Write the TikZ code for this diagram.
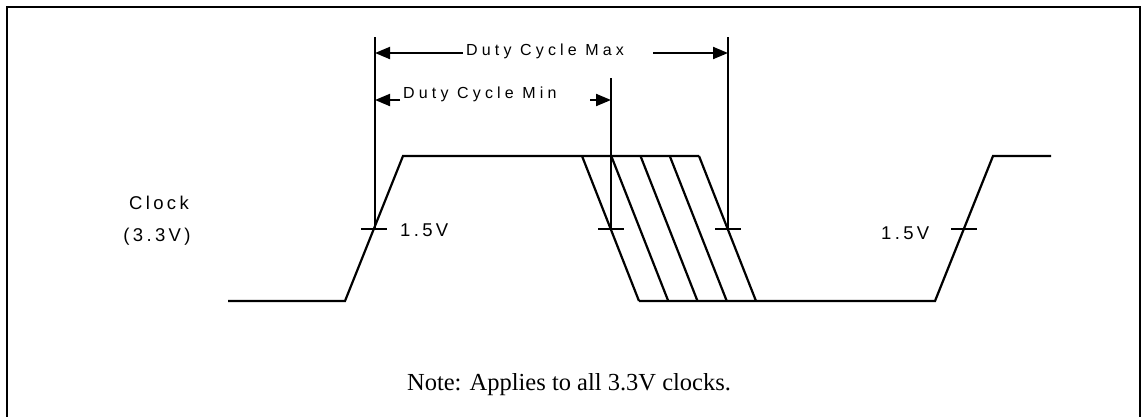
\documentclass[tikz,border=0pt]{standalone}
\usepackage{fontspec}
\setmainfont{Liberation Serif}
\newfontfamily\sigsans[LetterSpace=18]{Liberation Sans}
\newfontfamily\dutysans[LetterSpace=26]{Liberation Sans}
\usetikzlibrary{arrows.meta}
\usetikzlibrary{positioning}

\begin{document}
\begin{tikzpicture}[
  x=1pt, y=-1pt,
  wave/.style={line width=2.2pt, line join=miter},
  guide/.style={line width=1.9pt},
  tickmark/.style={line width=2.2pt},
  dimarrow/.style={line width=2pt, -{Triangle[length=15pt,width=12pt]}},
  siglabel/.style={inner sep=0pt, font=\sigsans\fontsize{18.5}{20}\selectfont},
  dutylabel/.style={inner sep=0pt, font=\dutysans\fontsize{16}{18}\selectfont}
]
\useasboundingbox (0,0) rectangle (1142,416);

% frame, open at the bottom
\draw[line width=2.4pt] (7,420) -- (7,7) -- (1140,7) -- (1140,420);

% clock waveform
\coordinate (lowA) at (228,301);
\coordinate (riseA) at (345,301);
\coordinate (highA) at (403,156);
\coordinate (highB) at (699,156);
\coordinate (lowB) at (639,301);
\coordinate (riseB) at (935,301);
\coordinate (highC) at (993,156);
\coordinate (highD) at (1051,156);

\draw[wave] (lowA) -- (riseA) -- (highA) -- (highB);
\draw[wave] (lowB) -- (riseB) -- (highC) -- (highD);
\foreach \i in {0,...,4} {
  \draw[wave] ({582+29.25*\i},156) -- ({639+29.25*\i},301);
}

% 1.5V crossings
\foreach \x in {374,611,728,964} {
  \draw[tickmark] (\x-13,229) -- (\x+13,229);
}

% reference lines
\coordinate (maxL) at (375,53);
\coordinate (maxR) at (728,53);
\coordinate (minL) at (375,100);
\coordinate (minR) at (611,100);
\draw[guide] (375,37) -- (375,229);
\draw[guide] (728,37) -- (728,229);
\draw[guide] (611,78) -- (611,229);

% labels
\node[dutylabel, anchor=base west] (maxtxt) at (466,55) {Duty Cycle Max};
\node[dutylabel, anchor=base west] (mintxt) at (403,98) {Duty Cycle Min};
\coordinate (maxtail) at (463,53);
\coordinate (maxhead) at (653,53);
\coordinate (mintail) at (400,100);
\coordinate (minhead) at (590,100);

\path (maxtail) edge[dimarrow] (maxL)
(maxhead) edge[dimarrow] (maxR)
(mintail) edge[dimarrow] (minL)
(minhead) edge[dimarrow] (minR)
;

\node[siglabel] (clk) at (159,203) {Clock};
\node[siglabel] (volt) at (157,237) {(3.3V)};
\node[siglabel, anchor=west] (vA) at (400,230) {1.5V};
\node[siglabel, anchor=west] (vB) at (881,233) {1.5V};

\node[font=\fontsize{24.5}{28}\selectfont] (note) at (569,385) {Note: Applies to all 3.3V clocks.};

\end{tikzpicture}
\end{document}
